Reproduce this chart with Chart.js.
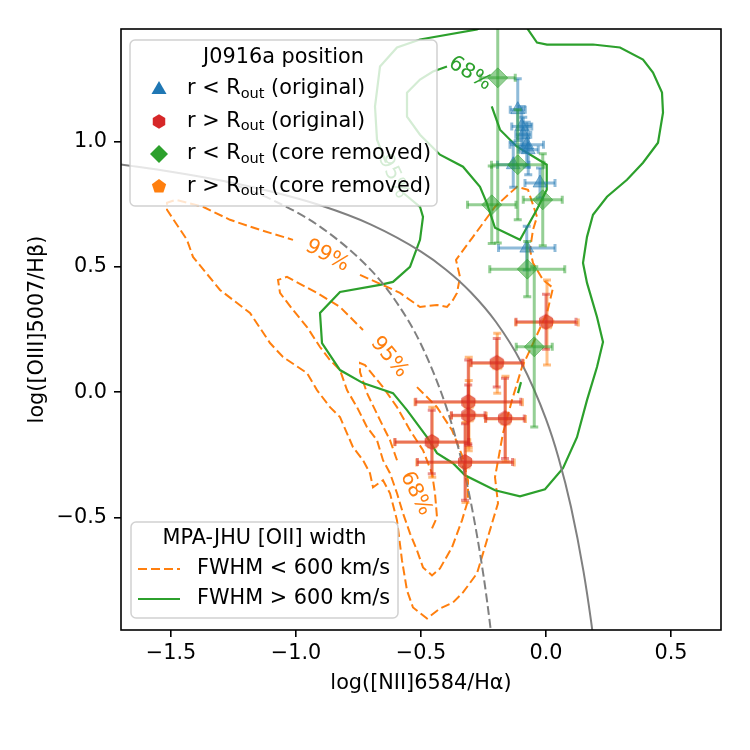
<!DOCTYPE html>
<html>
<head>
<meta charset="utf-8">
<title>J0916a BPT diagram</title>
<script src="https://cdn.jsdelivr.net/npm/chart.js@4.4.0/dist/chart.umd.min.js"></script>
<style>
  html, body { margin: 0; padding: 0; background: #fff; }
  #bpt { display: block; }
</style>
</head>
<body>
<canvas id="bpt" width="750" height="750"></canvas>
<script>
// ---- axes ----
const xTicks = [-1.5, -1.0, -0.5, 0.0, 0.5];
const yTicks = [-0.5, 0.0, 0.5, 1.0];

// ---- demarcation curves ----
const kewleyX = [-1.7, -1.5, -1.3, -1.1, -0.9, -0.7, -0.5, -0.4, -0.3, -0.2, -0.1, 0.0, 0.05, 0.1, 0.15, 0.18, 0.2];
const kewleyY = [0.909, 0.880, 0.845, 0.801, 0.745, 0.669, 0.561, 0.489, 0.398, 0.280, 0.120, -0.108, -0.262, -0.459, -0.716, -0.913, -1.069];
const kauffX = [-1.28, -1.1, -0.9, -0.7, -0.6, -0.5, -0.4, -0.35, -0.3, -0.25, -0.22, -0.2];
const kauffY = [0.841, 0.770, 0.658, 0.487, 0.362, 0.191, -0.056, -0.225, -0.443, -0.733, -0.959, -1.14];

// ---- MPA-JHU contours, FWHM < 600 km/s (dashed orange) ----
const orange99X = [-0.744, -0.636, -0.584, -0.544, -0.504, -0.436, -0.396, -0.372, -0.356, -0.344, -0.36, -0.292, -0.204, -0.116, -0.072, -0.036, -0.052, -0.064, -0.052, -0.012, 0.028, 0.004, -0.064, -0.096, -0.136, -0.172, -0.204, -0.192, -0.216, -0.252, -0.276, -0.332, -0.372, -0.424, -0.476, -0.532, -0.556, -0.576, -0.596, -0.624, -0.652, -0.692, -0.704, -0.732, -0.772, -0.824, -0.864, -0.916, -0.956, -1.052, -1.104, -1.184, -1.304, -1.412, -1.436, -1.516, -1.516, -1.48, -1.372, -1.264, -1.144, -1.012];
const orange99Y = [0.468, 0.42, 0.396, 0.368, 0.34, 0.348, 0.34, 0.368, 0.396, 0.46, 0.528, 0.62, 0.74, 0.82, 0.808, 0.70, 0.648, 0.568, 0.516, 0.448, 0.416, 0.316, 0.168, 0.10, -0.032, -0.164, -0.34, -0.444, -0.524, -0.644, -0.724, -0.80, -0.84, -0.864, -0.904, -0.86, -0.792, -0.672, -0.512, -0.404, -0.352, -0.38, -0.324, -0.272, -0.22, -0.10, -0.06, 0.008, 0.076, 0.14, 0.196, 0.316, 0.408, 0.54, 0.608, 0.728, 0.756, 0.768, 0.74, 0.688, 0.648, 0.608];
const orange95X = [-0.516, -0.436, -0.376, -0.336, -0.312, -0.312, -0.336, -0.376, -0.424, -0.456, -0.492, -0.516, -0.544, -0.572, -0.596, -0.624, -0.652, -0.676, -0.716, -0.756, -0.796, -0.824, -0.864, -0.904, -0.956, -1.012, -1.064, -1.072, -1.036, -0.916, -0.824, -0.732];
const orange95Y = [0.02, -0.06, -0.152, -0.252, -0.352, -0.432, -0.512, -0.62, -0.704, -0.732, -0.70, -0.632, -0.564, -0.484, -0.404, -0.324, -0.272, -0.192, -0.14, -0.06, 0.008, 0.088, 0.128, 0.18, 0.26, 0.328, 0.396, 0.448, 0.46, 0.396, 0.34, 0.248];
const orange68X = [-0.456, -0.436, -0.444, -0.456, -0.492, -0.544, -0.596, -0.652, -0.724, -0.744, -0.744, -0.716, -0.664, -0.624, -0.596];
const orange68Y = [-0.544, -0.50, -0.404, -0.324, -0.232, -0.152, -0.06, 0.02, 0.108, 0.116, 0.08, -0.004, -0.112, -0.192, -0.272];

// ---- MPA-JHU contours, FWHM > 600 km/s (solid green) ----
const green68X = [-0.217, -0.184, -0.117, 0.003, 0.003, -0.037, -0.104, -0.204, -0.237, -0.264, -0.332, -0.424, -0.504, -0.556, -0.556, -0.504, -0.452, -0.396];
const green68Y = [1.141, 1.048, 0.981, 0.908, 0.808, 0.728, 0.608, 0.656, 0.756, 0.82, 0.90, 0.948, 1.028, 1.10, 1.196, 1.248, 1.28, 1.30];
const green95X = [-0.092, -0.072, -0.036, 0.004, 0.188, 0.296, 0.388, 0.428, 0.464, 0.468, 0.448, 0.388, 0.324, 0.244, 0.188, 0.164, 0.148, 0.164, 0.204, 0.228, 0.204, 0.164, 0.124, 0.068, -0.004, -0.104, -0.204, -0.324, -0.372, -0.436, -0.476, -0.556, -0.612, -0.732, -0.824, -0.896, -0.904, -0.824, -0.664, -0.612, -0.544, -0.504, -0.492, -0.504, -0.572];
const green95Y = [1.508, 1.448, 1.396, 1.388, 1.388, 1.376, 1.328, 1.276, 1.196, 1.116, 0.996, 0.916, 0.848, 0.78, 0.708, 0.62, 0.516, 0.436, 0.30, 0.20, 0.10, -0.032, -0.18, -0.304, -0.388, -0.416, -0.392, -0.332, -0.284, -0.244, -0.18, -0.072, -0.004, 0.036, 0.088, 0.196, 0.316, 0.40, 0.428, 0.44, 0.50, 0.608, 0.70, 0.74, 0.796];
const green95bX = [-0.64, -0.676, -0.684, -0.664, -0.596, -0.504, -0.276, -0.224];
const green95bY = [0.916, 1.008, 1.14, 1.30, 1.376, 1.408, 1.448, 1.48];
const greenBitX = [-0.1, -0.112];
const greenBitY = [0.04, -0.004];

// ---- J0916a measurements ----
// r < Rout (original)
const blueX = [-0.113, -0.097, -0.091, -0.077, -0.071, -0.131, -0.024, -0.077];
const blueY = [1.128, 1.061, 1.028, 0.988, 0.968, 0.908, 0.835, 0.575];
const blueXerr = [0.03, 0.04, 0.03, 0.067, 0.04, 0.063, 0.06, 0.113];
const blueYerr = [0.123, 0.08, 0.07, 0.09, 0.1, 0.09, 0.06, 0.087];
// r > Rout (original)
const redX = [0.0, -0.197, -0.311, -0.311, -0.164, -0.457, -0.324];
const redY = [0.281, 0.117, -0.039, -0.092, -0.105, -0.199, -0.279];
const redXerr = [0.12, 0.103, 0.21, 0.067, 0.077, 0.147, 0.19];
const redYerr = [0.11, 0.097, 0.167, 0.12, 0.16, 0.127, 0.153];
// r < Rout (core removed)
const greenX = [-0.193, -0.113, -0.217, -0.013, -0.075, -0.047];
const greenY = [1.255, 0.908, 0.748, 0.768, 0.491, 0.181];
const greenXerr = [0.07, 0.105, 0.097, 0.078, 0.15, 0.072];
const greenYerr = [0.66, 0.22, 0.155, 0.184, 0.11, 0.32];
// r > Rout (core removed)
const orangeX = [0.004, -0.195, -0.309, -0.309, -0.162, -0.455, -0.322];
const orangeY = [0.278, 0.115, -0.041, -0.094, -0.107, -0.2, -0.281];
const orangeXerr = [0.125, 0.105, 0.215, 0.07, 0.08, 0.15, 0.195];
const orangeYerr = [0.17, 0.12, 0.18, 0.14, 0.17, 0.14, 0.16];

const BLUE = '#1f77b4', ORANGE = '#ff7f0e', GREEN = '#2ca02c', RED = '#d62728', GRAY = '#808080';
const FPX = 20.8;
const FAM = '"DejaVu Sans", sans-serif';
const DASH = [9, 4];
Chart.defaults.font.family = FAM;

const pts = (xs, ys) => xs.map((x, i) => ({ x: x, y: ys[i] }));
const rgba = (hex, a) => {
  const n = parseInt(hex.slice(1), 16);
  return `rgba(${n >> 16},${(n >> 8) & 255},${n & 255},${a})`;
};

function tracePoly(g, cx, cy, sides, r, rot) {
  g.beginPath();
  for (let k = 0; k < sides; k++) {
    const a = rot + k * 2 * Math.PI / sides;
    const px = cx + r * Math.cos(a), py = cy + r * Math.sin(a);
    if (k === 0) g.moveTo(px, py); else g.lineTo(px, py);
  }
  g.closePath();
}

// hexagon / pentagon point styles
function polyMarker(sides, r, color) {
  const c = document.createElement('canvas');
  const s = Math.ceil(2 * r + 3);
  c.width = c.height = s;
  const g = c.getContext('2d');
  tracePoly(g, s / 2, s / 2, sides, r, -Math.PI / 2);
  g.fillStyle = color;
  g.fill();
  g.strokeStyle = color;
  g.lineWidth = 1;
  g.stroke();
  return c;
}

const contourLabels = [
  { text: '99%', x: -0.875, y: 0.544, angle: 28, color: ORANGE },
  { text: '95%', x: -0.627, y: 0.139, angle: 50, color: ORANGE },
  { text: '68%', x: -0.521, y: -0.405, angle: 63, color: ORANGE },
  { text: '68%', x: -0.304, y: 1.272, angle: 32, color: GREEN },
  { text: '95%', x: -0.611, y: 0.861, angle: 65, color: GREEN }
];

const legendRows = [
  { shape: 'triangle', color: BLUE, op: '<', tail: 'original' },
  { shape: 'hex', color: RED, op: '>', tail: 'original' },
  { shape: 'diamond', color: GREEN, op: '<', tail: 'core removed' },
  { shape: 'pent', color: ORANGE, op: '>', tail: 'core removed' }
];

function lineSet(xs, ys, color, width, dash, order) {
  return {
    data: pts(xs, ys), showLine: true, pointRadius: 0, borderColor: color,
    borderWidth: width, borderDash: dash, fill: false, order: order, clip: 0
  };
}

function pointSet(xs, ys, xe, ye, color, style, radius, order) {
  return {
    data: pts(xs, ys), errX: xe, errY: ye, errColor: rgba(color, 0.5),
    showLine: false, pointStyle: style, pointRadius: radius,
    backgroundColor: rgba(color, 0.5), borderColor: rgba(color, 0.5), borderWidth: 1,
    order: order, clip: false
  };
}

const errorBars = {
  id: 'errorBars',
  beforeDatasetDraw(chart, args) {
    const ds = chart.data.datasets[args.index];
    if (!ds.errX) return;
    const { ctx, chartArea: a } = chart;
    const xs = chart.scales.x, ys = chart.scales.y;
    ctx.save();
    ctx.beginPath();
    ctx.rect(a.left, a.top, a.right - a.left, a.bottom - a.top);
    ctx.clip();
    ctx.strokeStyle = ds.errColor;
    ctx.lineWidth = 3;
    const cap = 4;
    ds.data.forEach((p, i) => {
      const px = xs.getPixelForValue(p.x), py = ys.getPixelForValue(p.y);
      const x0 = xs.getPixelForValue(p.x - ds.errX[i]), x1 = xs.getPixelForValue(p.x + ds.errX[i]);
      const y0 = ys.getPixelForValue(p.y - ds.errY[i]), y1 = ys.getPixelForValue(p.y + ds.errY[i]);
      ctx.beginPath();
      ctx.moveTo(x0, py); ctx.lineTo(x1, py);
      ctx.stroke();
      ctx.beginPath();
      ctx.moveTo(px, y0); ctx.lineTo(px, y1);
      ctx.stroke();
      ctx.beginPath();
      ctx.moveTo(x0, py - cap); ctx.lineTo(x0, py + cap);
      ctx.moveTo(x1, py - cap); ctx.lineTo(x1, py + cap);
      ctx.moveTo(px - cap, y0); ctx.lineTo(px + cap, y0);
      ctx.moveTo(px - cap, y1); ctx.lineTo(px + cap, y1);
      ctx.stroke();
    });
    ctx.restore();
  }
};

const contourText = {
  id: 'contourText',
  afterDatasetsDraw(chart) {
    const { ctx } = chart;
    const xs = chart.scales.x, ys = chart.scales.y;
    ctx.save();
    ctx.font = `${FPX}px ${FAM}`;
    ctx.textAlign = 'center';
    ctx.textBaseline = 'middle';
    contourLabels.forEach(l => {
      ctx.save();
      ctx.translate(xs.getPixelForValue(l.x), ys.getPixelForValue(l.y));
      ctx.rotate(l.angle * Math.PI / 180);
      ctx.fillStyle = l.color;
      ctx.fillText(l.text, 0, 0);
      ctx.restore();
    });
    ctx.restore();
  }
};

function legendBox(ctx, x, y, w, h) {
  ctx.beginPath();
  ctx.roundRect(x, y, w, h, 5);
  ctx.fillStyle = 'rgba(255,255,255,0.8)';
  ctx.fill();
  ctx.strokeStyle = 'rgba(204,204,204,0.9)';
  ctx.lineWidth = 1.5;
  ctx.stroke();
}

function legendMarker(ctx, shape, cx, cy, color) {
  ctx.fillStyle = color;
  if (shape === 'triangle') {
    ctx.beginPath();
    ctx.moveTo(cx, cy - 8); ctx.lineTo(cx + 7.5, cy + 5); ctx.lineTo(cx - 7.5, cy + 5);
    ctx.closePath();
  } else if (shape === 'diamond') {
    ctx.beginPath();
    ctx.moveTo(cx, cy - 9); ctx.lineTo(cx + 9, cy); ctx.lineTo(cx, cy + 9); ctx.lineTo(cx - 9, cy);
    ctx.closePath();
  } else if (shape === 'hex') {
    tracePoly(ctx, cx, cy, 6, 7.2, -Math.PI / 2);
  } else {
    tracePoly(ctx, cx, cy, 5, 7.5, -Math.PI / 2);
  }
  ctx.fill();
}

const frameAndLegends = {
  id: 'frameAndLegends',
  afterDraw(chart) {
    const { ctx, chartArea: a } = chart;
    ctx.save();
    ctx.strokeStyle = '#000';
    ctx.lineWidth = 1.6;
    ctx.strokeRect(a.left, a.top, a.right - a.left, a.bottom - a.top);

    // legend: J0916a position
    legendBox(ctx, 130, 40, 307, 166);
    ctx.fillStyle = '#000';
    ctx.font = `${FPX}px ${FAM}`;
    ctx.textAlign = 'center';
    ctx.textBaseline = 'middle';
    ctx.fillText('J0916a position', 283.5, 58);
    legendRows.forEach((r, i) => {
      const y = 89 + i * 32.5;
      legendMarker(ctx, r.shape, 159, y, r.color);
      ctx.fillStyle = '#000';
      ctx.textAlign = 'left';
      let x = 187;
      const head = 'r ' + r.op + ' R';
      ctx.font = `${FPX}px ${FAM}`;
      ctx.fillText(head, x, y);
      x += ctx.measureText(head).width;
      ctx.font = `${FPX * 0.7}px ${FAM}`;
      ctx.fillText('out', x, y + 5);
      x += ctx.measureText('out').width;
      ctx.font = `${FPX}px ${FAM}`;
      ctx.fillText(' (' + r.tail + ')', x, y);
    });

    // legend: MPA-JHU [OII] width
    legendBox(ctx, 131, 522, 267, 96);
    ctx.fillStyle = '#000';
    ctx.textAlign = 'center';
    ctx.fillText('MPA-JHU [OII] width', 264.5, 539);
    ctx.lineWidth = 2.2;
    ctx.strokeStyle = ORANGE;
    ctx.setLineDash(DASH);
    ctx.beginPath(); ctx.moveTo(138, 569); ctx.lineTo(180, 569); ctx.stroke();
    ctx.setLineDash([]);
    ctx.strokeStyle = GREEN;
    ctx.beginPath(); ctx.moveTo(138, 599); ctx.lineTo(180, 599); ctx.stroke();
    ctx.textAlign = 'left';
    ctx.fillText('FWHM < 600 km/s', 197, 569);
    ctx.fillText('FWHM > 600 km/s', 197, 599);
    ctx.restore();
  }
};

const fmt = v => v.toFixed(1).replace('-', '\u2212');

new Chart(document.getElementById('bpt'), {
  type: 'scatter',
  data: {
    datasets: [
      pointSet(greenX, greenY, greenXerr, greenYerr, GREEN, 'rectRot', 10, 1),
      pointSet(blueX, blueY, blueXerr, blueYerr, BLUE, 'triangle', 8, 2),
      pointSet(redX, redY, redXerr, redYerr, RED, polyMarker(6, 7.5, rgba(RED, 0.5)), 8, 3),
      pointSet(orangeX, orangeY, orangeXerr, orangeYerr, ORANGE, polyMarker(5, 7.5, rgba(ORANGE, 0.5)), 8, 4),
      Object.assign(lineSet(kewleyX, kewleyY, GRAY, 2, [], 10), { cubicInterpolationMode: 'monotone' }),
      Object.assign(lineSet(kauffX, kauffY, GRAY, 2, DASH, 11), { cubicInterpolationMode: 'monotone' }),
      lineSet(green68X, green68Y, GREEN, 2.2, [], 12),
      lineSet(green95X, green95Y, GREEN, 2.2, [], 13),
      lineSet(green95bX, green95bY, GREEN, 2.2, [], 14),
      lineSet(greenBitX, greenBitY, GREEN, 2.2, [], 15),
      lineSet(orange68X, orange68Y, ORANGE, 2, DASH, 16),
      lineSet(orange95X, orange95Y, ORANGE, 2, DASH, 17),
      lineSet(orange99X, orange99Y, ORANGE, 2, DASH, 18)
    ]
  },
  options: {
    responsive: false,
    animation: false,
    devicePixelRatio: 1,
    events: [],
    layout: { padding: { left: 0, right: 29, top: 29, bottom: 0 } },
    plugins: { legend: { display: false }, tooltip: { enabled: false } },
    scales: {
      x: {
        type: 'linear', min: -1.7, max: 0.7,
        afterFit: s => { s.height = 120; },
        afterBuildTicks: s => { s.ticks = xTicks.map(v => ({ value: v })); },
        ticks: { callback: fmt, color: '#000', font: { size: FPX }, padding: 4, maxRotation: 0 },
        grid: { drawOnChartArea: false, drawTicks: true, tickLength: 7, color: '#000', lineWidth: 1.6 },
        border: { display: false },
        title: { display: true, text: 'log([NII]6584/H\u03b1)', color: '#000', font: { size: FPX }, padding: { top: 0, bottom: 54 } }
      },
      y: {
        type: 'linear', min: -0.95, max: 1.45,
        afterFit: s => { s.width = 121; },
        afterBuildTicks: s => { s.ticks = yTicks.map(v => ({ value: v })); },
        ticks: { callback: fmt, color: '#000', font: { size: FPX }, padding: 7 },
        grid: { drawOnChartArea: false, drawTicks: true, tickLength: 7, color: '#000', lineWidth: 1.6 },
        border: { display: false },
        title: { display: true, text: 'log([OIII]5007/H\u03b2)', color: '#000', font: { size: FPX }, padding: { top: 25, bottom: 0 } }
      }
    }
  },
  plugins: [errorBars, contourText, frameAndLegends]
});
</script>
</body>
</html>
